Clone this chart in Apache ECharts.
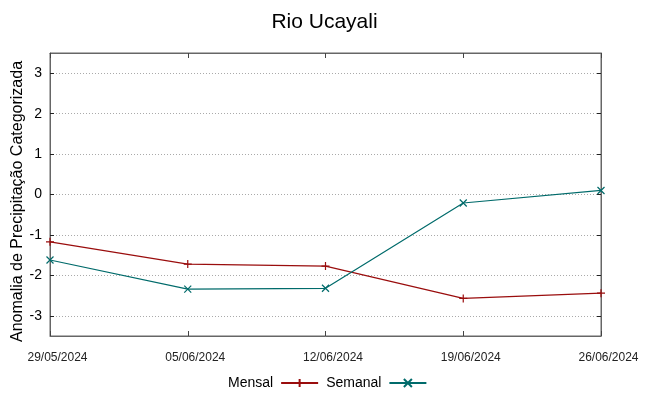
<!DOCTYPE html>
<html>
<head>
<meta charset="utf-8">
<script src="https://cdn.jsdelivr.net/npm/echarts@6/dist/echarts.min.js"></script>
<style>html,body{margin:0;padding:0;background:#fff}#c{width:649px;height:396px}</style>
</head>
<body>
<div id="c"></div>
<script>
const categories = ['29/05/2024','05/06/2024','12/06/2024','19/06/2024','26/06/2024'];
const mensal = [-1.17, -1.72, -1.77, -2.57, -2.44];
const semanal = [-1.62, -2.34, -2.32, -0.21, 0.10];
const yTicks = [-3, -2, -1, 0, 1, 2, 3];

const FONT = 'Liberation Sans, Arial, sans-serif';
const plus = 'path://M0,-1L0,1M-1,0L1,0';
const cross = 'path://M-1,-1L1,1M-1,1L1,-1';

const chart = echarts.init(document.getElementById('c'), null, {renderer: 'canvas'});
chart.setOption({
  animation: false,
  title: {
    text: 'Rio Ucayali', left: 'center', top: 7,
    textStyle: {fontFamily: FONT, fontSize: 21, fontWeight: 'normal', color: '#000'}
  },
  legend: {
    bottom: 6, left: 228, padding: 0, align: 'right', itemGap: 7, itemWidth: 37, itemHeight: 10,
    textStyle: {fontFamily: FONT, fontSize: 14, color: '#000', padding: [0, 3, 0, 0]},
    data: ['Mensal', 'Semanal']
  },
  grid: {left: 50, right: 48, top: 53, bottom: 60, show: true, borderColor: '#666', borderWidth: 1,
    outerBoundsMode: 'none', containLabel: false},
  xAxis: [{
    type: 'category', data: categories, boundaryGap: false, position: 'bottom',
    axisLine: {show: true, onZero: false, lineStyle: {color: '#666'}},
    axisTick: {show: true, inside: true, length: 5, lineStyle: {color: '#444'}},
    axisLabel: {fontFamily: FONT, fontSize: 12, color: '#222', margin: 16, padding: [0, 0, 0, 15]},
    splitLine: {show: false}
  }, {
    type: 'category', data: categories, boundaryGap: false, position: 'top',
    axisLine: {show: true, onZero: false, lineStyle: {color: '#666'}},
    axisTick: {show: true, inside: true, length: 5, lineStyle: {color: '#444'}},
    axisLabel: {show: false}, splitLine: {show: false}
  }],
  yAxis: [{
    type: 'value', min: -3.5, max: 3.5,
    name: 'Anomalia de Precipitação Categorizada', nameLocation: 'middle', nameGap: 24, nameRotate: 90,
    nameMoveOverlap: false,
    nameTextStyle: {fontFamily: FONT, fontSize: 16, color: '#000', padding: [0, 14, 0, 0]},
    axisLine: {show: true, onZero: false, lineStyle: {color: '#666'}},
    axisTick: {show: true, inside: true, length: 4, customValues: yTicks, lineStyle: {color: '#222'}},
    axisLabel: {fontFamily: FONT, fontSize: 14, color: '#000', margin: 8, customValues: yTicks},
    splitLine: {show: true, lineStyle: {color: '#aaa', type: [1, 2], width: 1}}
  }, {
    type: 'value', min: -3.5, max: 3.5, position: 'right',
    axisLine: {show: true, onZero: false, lineStyle: {color: '#666'}},
    axisTick: {show: true, inside: true, length: 4, customValues: yTicks, lineStyle: {color: '#222'}},
    axisLabel: {show: false, customValues: yTicks}, splitLine: {show: false}
  }],
  series: [{
    name: 'Mensal', type: 'line', data: mensal,
    symbol: plus, symbolSize: 8, showAllSymbol: true,
    lineStyle: {color: '#9a0d0d', width: 1.2},
    itemStyle: {color: '#9a0d0d', borderColor: '#9a0d0d', borderWidth: 1.2}
  }, {
    name: 'Semanal', type: 'line', data: semanal,
    symbol: cross, symbolSize: 7, showAllSymbol: true,
    lineStyle: {color: '#006b6b', width: 1.2},
    itemStyle: {color: '#006b6b', borderColor: '#006b6b', borderWidth: 1.2}
  }]
});
</script>
</body>
</html>
